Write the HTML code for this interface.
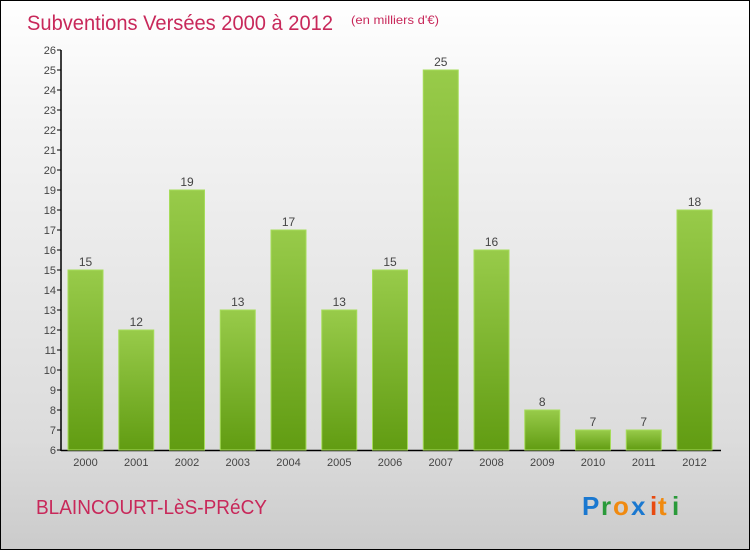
<!DOCTYPE html>
<html><head><meta charset="utf-8"><style>
html,body{margin:0;padding:0}
body{width:750px;height:550px;overflow:hidden;font-family:"Liberation Sans","DejaVu Sans",sans-serif}
#wrap{position:absolute;left:0;top:0;width:748px;height:548px;border:1px solid #000;background:linear-gradient(#fff,#f4f4f4 20%,#dcdcdc 80%,#cbcbcb)}
</style></head><body>
<div id="wrap">
<svg width="748" height="548" viewBox="1 1 748 548" style="position:absolute;left:0;top:0">
<defs><linearGradient id="g" x1="0" y1="0" x2="0" y2="1"><stop offset="0" stop-color="#98cb4a"/><stop offset="1" stop-color="#619c12"/></linearGradient></defs>
<text x="27" y="30" font-size="21" fill="#c8285a" textLength="306" lengthAdjust="spacingAndGlyphs">Subventions Versées 2000 à 2012</text>
<text x="351" y="24" font-size="12" fill="#c8285a" textLength="88" lengthAdjust="spacingAndGlyphs">(en milliers d'€)</text>
<g id="ax"></g><g id="bars"></g>
<text x="36" y="514" font-size="20" fill="#c8285a" textLength="231" lengthAdjust="spacingAndGlyphs">BLAINCOURT-LèS-PRéCY</text>
<g font-size="26" font-weight="bold">
<text x="582" y="515" fill="#1a78d0">P</text><text x="601" y="515" fill="#2a9a3a">r</text><text x="613" y="515" fill="#f08a10">o</text><text x="631" y="515" fill="#1a78d0">x</text><text x="650" y="515" fill="#e84a10">i</text><text x="658" y="515" fill="#f08a10">t</text><text x="672" y="515" fill="#2a9a3a">i</text></g>
</svg></div>
<script>
const years=["2000","2001","2002","2003","2004","2005","2006","2007","2008","2009","2010","2011","2012"];
const values=[15,12,19,13,17,13,15,25,16,8,7,7,18];
const yTicks=[6,7,8,9,10,11,12,13,14,15,16,17,18,19,20,21,22,23,24,25,26];
const NS="http://www.w3.org/2000/svg";
const y=v=>450-(v-6)*20, x=i=>85.5+i*50.75;
function mk(t,a,p){const e=document.createElementNS(NS,t);for(const k in a)e.setAttribute(k,a[k]);p.appendChild(e);return e;}
const ax=document.getElementById('ax'),bars=document.getElementById('bars');
let l=mk('line',{x1:61,y1:50,x2:61,y2:451,stroke:'#000','stroke-width':1.5},ax);


l=mk('line',{x1:61,y1:450.5,x2:721,y2:450.5,stroke:'#000','stroke-width':1.5},ax);


yTicks.forEach(v=>{
 mk('line',{x1:57,y1:y(v),x2:61,y2:y(v),stroke:'#000'},ax);
 const t=mk('text',{x:56,y:y(v)+4,'font-size':11,'text-anchor':'end',fill:'#444'},ax);t.textContent=v;
 
 
});
values.forEach((v,i)=>{
 const r=mk('rect',{x:x(i)-17.5,y:y(v),width:35,height:450-y(v),fill:'url(#g)',stroke:'#a6dc5a','stroke-width':1},bars);
 
 
 const t=mk('text',{x:x(i),y:y(v)-4,'font-size':12,'text-anchor':'middle',fill:'#444'},bars);t.textContent=v;
 
 
 const xl=mk('text',{x:x(i),y:466,'font-size':11,'text-anchor':'middle',fill:'#444'},ax);xl.textContent=years[i];
 
 
});
</script>
</body></html>
